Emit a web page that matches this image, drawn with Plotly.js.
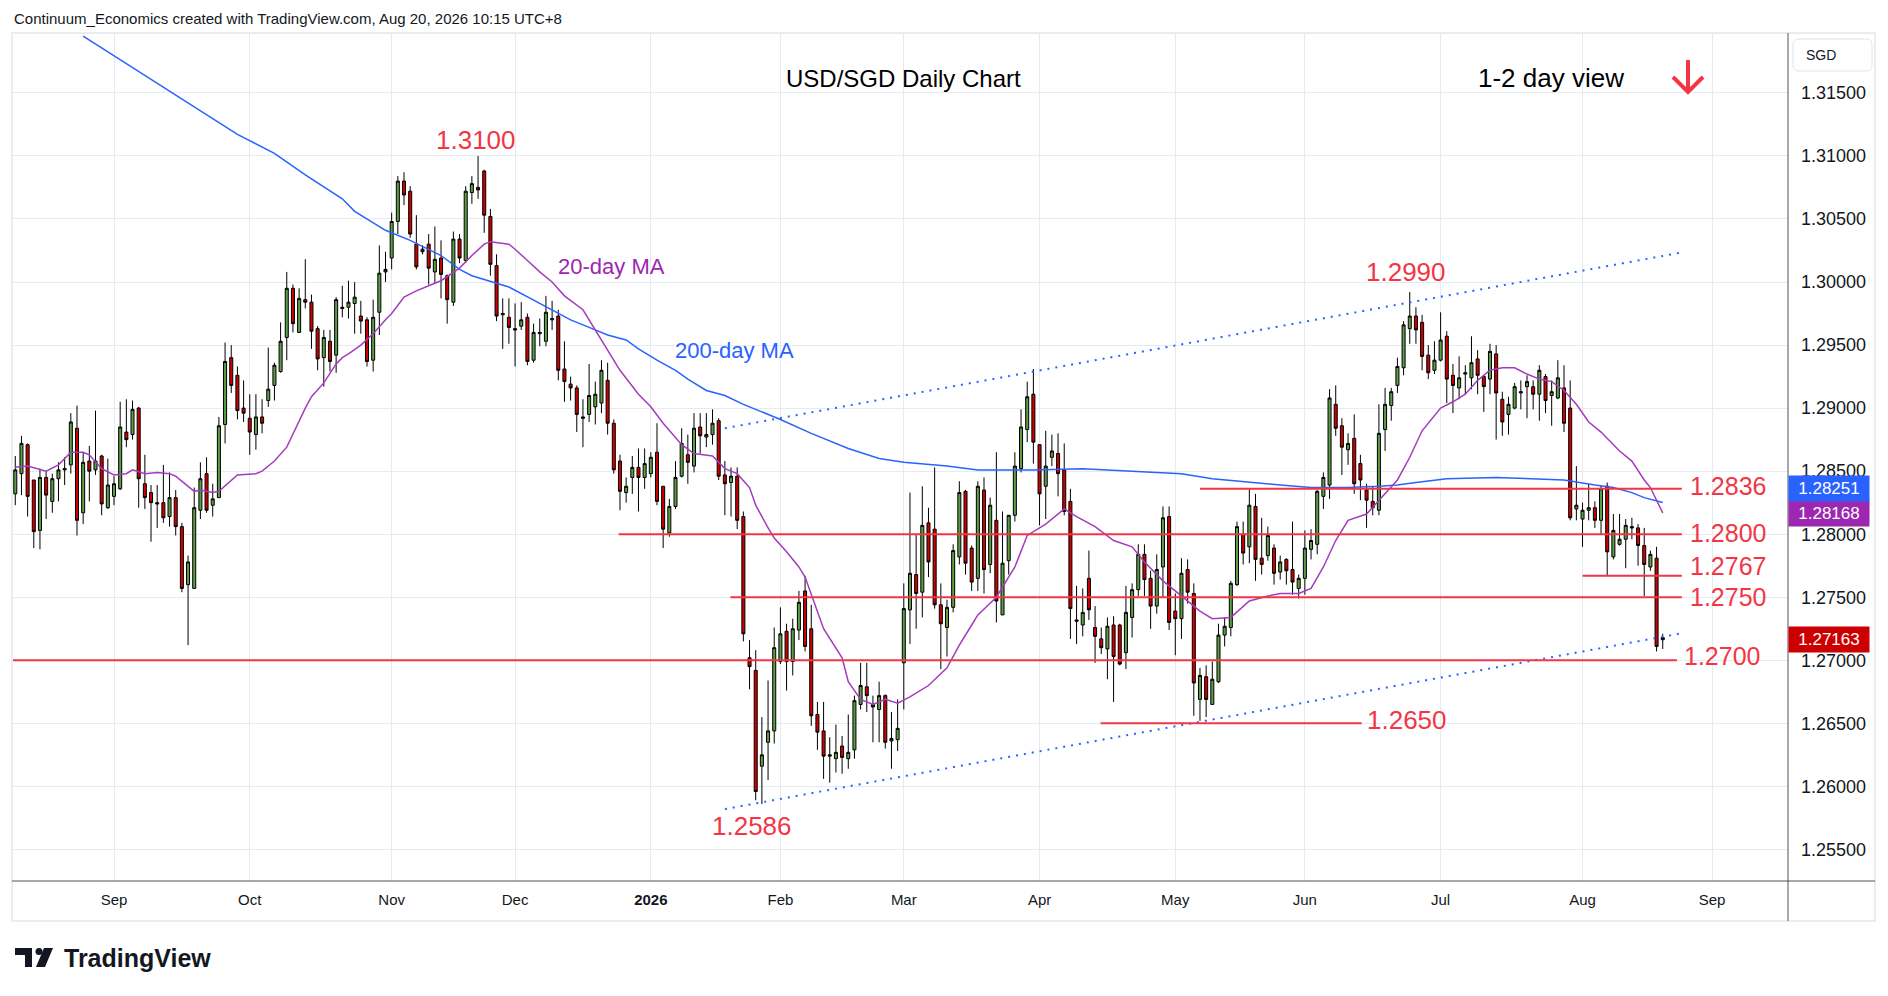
<!DOCTYPE html>
<html>
<head>
<meta charset="utf-8">
<script src="https://cdn.plot.ly/plotly-3.0.1.min.js"></script>
<style>
  html, body { margin: 0; padding: 0; background: #ffffff; }
  #usdsgd_plot { width: 1888px; height: 996px; }
</style>
</head>
<body>
<div id="usdsgd_plot"></div>
<script>
// daily bars, 8 Aug 2025 .. 20 Aug 2026
var openPx = [
  1.2832,1.2848,1.2871,1.2843,1.2803,1.2845,1.2826,1.2844,1.2851,1.2855,
  1.2884,1.2817,1.2858,1.2851,1.2862,1.2821,1.2830,1.2836,1.2881,1.2879,
  1.2900,1.2840,1.2833,1.2825,1.2825,1.2814,1.2829,1.2806,1.2760,1.2757,
  1.2819,1.2848,1.2823,1.2829,1.2887,1.2940,1.2926,1.2900,1.2892,1.2879,
  1.2893,1.2906,1.2918,1.2929,1.2956,1.2995,1.2960,1.2986,1.2984,1.2963,
  1.2940,1.2953,1.2942,1.2980,1.2980,1.2983,1.2973,1.2970,1.2938,1.2976,
  1.3008,1.3019,1.3048,1.3080,1.3072,1.3030,1.3024,1.3030,1.3008,1.3019,
  1.3005,1.2984,1.3034,1.3017,1.3071,1.3075,1.3088,1.3052,1.3013,1.2974,
  1.2972,1.2963,1.2965,1.2972,1.2938,1.2959,1.2953,1.2970,1.2973,1.2931,
  1.2919,1.2916,1.2893,1.2895,1.2901,1.2904,1.2922,1.2888,1.2858,1.2833,
  1.2845,1.2853,1.2845,1.2848,1.2865,1.2838,1.2801,1.2822,1.2846,1.2863,
  1.2854,1.2885,1.2877,1.2879,1.2890,1.2847,1.2841,1.2846,1.2814,1.2702,
  1.2692,1.2616,1.2635,1.2644,1.2699,1.2723,1.2699,1.2724,1.2755,1.2725,
  1.2657,1.2644,1.2624,1.2622,1.2632,1.2622,1.2629,1.2665,1.2679,1.2665,
  1.2661,1.2672,1.2636,1.2637,1.2698,1.2740,1.2768,1.2754,1.2809,1.2804,
  1.2744,1.2726,1.2742,1.2782,1.2834,1.2789,1.2765,1.2835,1.2776,1.2811,
  1.2736,1.2779,1.2815,1.2852,1.2883,1.2911,1.2871,1.2838,1.2861,1.2864,
  1.2851,1.2826,1.2732,1.2728,1.2765,1.2726,1.2717,1.2709,1.2728,1.2728,
  1.2706,1.2734,1.2756,1.2784,1.2765,1.2743,1.2774,1.2814,1.2739,1.2733,
  1.2772,1.2753,1.2669,1.2687,1.2665,1.2683,1.2720,1.2726,1.2760,1.2800,
  1.2790,1.2822,1.2781,1.2783,1.2789,1.2770,1.2780,1.2772,1.2757,1.2765,
  1.2788,1.2792,1.2830,1.2839,1.2903,1.2886,1.2867,1.2876,1.2856,1.2835,
  1.2826,1.2819,1.2883,1.2902,1.2918,1.2932,1.2963,1.2973,1.2968,1.2942,
  1.2930,1.2938,1.2957,1.2926,1.2916,1.2927,1.2924,1.2939,1.2925,1.2923,
  1.2943,1.2907,1.2895,1.2900,1.2912,1.2917,1.2917,1.2911,1.2925,1.2910,
  1.2908,1.2916,1.2900,1.2820,1.2812,1.2819,1.2821,1.2811,1.2838,1.2782,
  1.2792,1.2796,1.2806,1.2805,1.2791,1.2774,1.2781,1.2718
];
var highPx = [
  1.2862,1.2878,1.2872,1.2843,1.2852,1.2850,1.2848,1.2857,1.2861,1.2896,
  1.2902,1.2865,1.2870,1.2898,1.2863,1.2860,1.2846,1.2905,1.2907,1.2906,
  1.2901,1.2863,1.2839,1.2839,1.2855,1.2849,1.2835,1.2809,1.2783,1.2837,
  1.2857,1.2861,1.2840,1.2893,1.2952,1.2950,1.2933,1.2922,1.2911,1.2911,
  1.2907,1.2948,1.2936,1.2968,1.3008,1.2998,1.2995,1.3018,1.2990,1.2965,
  1.2962,1.2962,1.2988,1.2997,1.3001,1.3000,1.2985,1.2972,1.2986,1.3029,
  1.3024,1.3055,1.3084,1.3087,1.3076,1.3053,1.3029,1.3038,1.3044,1.3033,
  1.3006,1.3040,1.3038,1.3076,1.3084,1.3100,1.3089,1.3058,1.3022,1.2987,
  1.2987,1.2983,1.2984,1.2975,1.2967,1.2971,1.2989,1.2985,1.2978,1.2953,
  1.2925,1.2918,1.2907,1.2935,1.2921,1.2938,1.2936,1.2891,1.2863,1.2845,
  1.2862,1.2868,1.2868,1.2865,1.2888,1.2838,1.2828,1.2858,1.2884,1.2879,
  1.2896,1.2896,1.2896,1.2899,1.2892,1.2858,1.2853,1.2853,1.2818,1.2716,
  1.2708,1.2655,1.2684,1.2726,1.2742,1.2729,1.2733,1.2755,1.2767,1.2744,
  1.2667,1.2667,1.2639,1.2649,1.2640,1.2657,1.2672,1.2698,1.2698,1.2672,
  1.2683,1.2673,1.2659,1.2669,1.2761,1.2833,1.2800,1.2838,1.2821,1.2853,
  1.2761,1.2748,1.2792,1.2842,1.2835,1.2791,1.2842,1.2845,1.2829,1.2865,
  1.2818,1.2815,1.2865,1.2899,1.2921,1.2931,1.2871,1.2882,1.2879,1.2880,
  1.2872,1.2836,1.2759,1.2757,1.2787,1.2743,1.2726,1.2734,1.2735,1.2729,
  1.2759,1.2761,1.2792,1.2792,1.2771,1.2784,1.2822,1.2822,1.2753,1.2781,
  1.2780,1.2761,1.2694,1.2696,1.2699,1.2729,1.2734,1.2763,1.2810,1.2810,
  1.2836,1.2832,1.2813,1.2806,1.2792,1.2783,1.2781,1.2810,1.2768,1.2803,
  1.2804,1.2835,1.2849,1.2915,1.2918,1.2892,1.2880,1.2895,1.2863,1.2840,
  1.2838,1.2903,1.2916,1.2916,1.2940,1.2969,1.2992,1.2980,1.2974,1.2950,
  1.2953,1.2976,1.2961,1.2935,1.2941,1.2934,1.2957,1.2946,1.2926,1.2951,
  1.2950,1.2913,1.2909,1.2920,1.2922,1.2926,1.2922,1.2934,1.2927,1.2922,
  1.2938,1.2934,1.2922,1.2854,1.2825,1.2840,1.2826,1.2839,1.2841,1.2816,
  1.2816,1.2812,1.2813,1.2808,1.2805,1.2787,1.2790,1.2721
];
var lowPx = [
  1.2823,1.2831,1.2814,1.2789,1.2788,1.2812,1.2817,1.2826,1.2839,1.2848,
  1.2799,1.2808,1.2826,1.2847,1.2815,1.2820,1.2823,1.2835,1.2869,1.2875,
  1.2821,1.2820,1.2794,1.2805,1.2809,1.2806,1.2799,1.2754,1.2712,1.2757,
  1.2812,1.2817,1.2814,1.2829,1.2872,1.2912,1.2891,1.2889,1.2863,1.2867,
  1.2880,1.2901,1.2906,1.2928,1.2938,1.2960,1.2960,1.2979,1.2947,1.2930,
  1.2917,1.2929,1.2928,1.2972,1.2971,1.2959,1.2959,1.2933,1.2929,1.2958,
  1.3000,1.3010,1.3038,1.3061,1.3035,1.3010,1.3022,1.2998,1.2999,1.2987,
  1.2967,1.2981,1.3015,1.3015,1.3062,1.3066,1.3039,1.3005,1.2969,1.2947,
  1.2951,1.2933,1.2962,1.2934,1.2936,1.2949,1.2949,1.2962,1.2922,1.2905,
  1.2906,1.2881,1.2869,1.2889,1.2887,1.2896,1.2879,1.2848,1.2819,1.2825,
  1.2832,1.2818,1.2836,1.2845,1.2823,1.2789,1.2798,1.2820,1.2845,1.2840,
  1.2849,1.2864,1.2869,1.2871,1.2843,1.2815,1.2814,1.2804,1.2715,1.2677,
  1.2589,1.2586,1.2605,1.2634,1.2697,1.2676,1.2688,1.2716,1.2707,1.2648,
  1.2629,1.2606,1.2603,1.2611,1.2610,1.2614,1.2622,1.2661,1.2659,1.2635,
  1.2635,1.2630,1.2614,1.2628,1.2661,1.2713,1.2725,1.2734,1.2766,1.2741,
  1.2693,1.2703,1.2738,1.2776,1.2768,1.2755,1.2755,1.2753,1.2769,1.2730,
  1.2736,1.2768,1.2810,1.2849,1.2873,1.2856,1.2807,1.2812,1.2854,1.2830,
  1.2815,1.2717,1.2713,1.2719,1.2732,1.2698,1.2705,1.2685,1.2667,1.2696,
  1.2693,1.2718,1.2751,1.2751,1.2725,1.2737,1.2750,1.2724,1.2704,1.2717,
  1.2745,1.2656,1.2652,1.2655,1.2665,1.2682,1.2711,1.2719,1.2759,1.2776,
  1.2777,1.2763,1.2768,1.2779,1.2760,1.2764,1.2760,1.2752,1.2749,1.2752,
  1.2780,1.2784,1.2820,1.2828,1.2878,1.2847,1.2855,1.2832,1.2827,1.2805,
  1.2815,1.2815,1.2866,1.2890,1.2912,1.2926,1.2951,1.2951,1.2930,1.2923,
  1.2927,1.2937,1.2904,1.2896,1.2907,1.2911,1.2915,1.2911,1.2897,1.2911,
  1.2875,1.2878,1.2879,1.2899,1.2899,1.2892,1.2899,1.2890,1.2896,1.2886,
  1.2907,1.2881,1.2811,1.2811,1.2790,1.2811,1.2805,1.2800,1.2767,1.2780,
  1.2791,1.2773,1.2796,1.2775,1.2751,1.2771,1.2707,1.2709
];
var closePx = [
  1.2851,1.2872,1.2830,1.2802,1.2845,1.2831,1.2844,1.2851,1.2852,1.2889,
  1.2811,1.2857,1.2850,1.2858,1.2824,1.2839,1.2840,1.2885,1.2875,1.2899,
  1.2844,1.2829,1.2825,1.2824,1.2813,1.2829,1.2806,1.2757,1.2778,1.2821,
  1.2844,1.2819,1.2828,1.2886,1.2937,1.2918,1.2898,1.2896,1.2881,1.2893,
  1.2888,1.2915,1.2934,1.2953,1.2995,1.2967,1.2987,1.2984,1.2961,1.2939,
  1.2956,1.2937,1.2986,1.2979,1.2984,1.2988,1.2969,1.2937,1.2972,1.3007,
  1.3010,1.3048,1.3080,1.3069,1.3038,1.3012,1.3026,1.3011,1.3018,1.3006,
  1.2986,1.3034,1.3019,1.3072,1.3078,1.3073,1.3053,1.3014,1.2973,1.2975,
  1.2964,1.2962,1.2970,1.2937,1.2960,1.2960,1.2976,1.2971,1.2930,1.2921,
  1.2916,1.2895,1.2892,1.2910,1.2911,1.2930,1.2888,1.2851,1.2834,1.2838,
  1.2853,1.2845,1.2856,1.2861,1.2826,1.2804,1.2822,1.2845,1.2872,1.2857,
  1.2884,1.2878,1.2879,1.2888,1.2846,1.2840,1.2846,1.2811,1.2721,1.2695,
  1.2596,1.2625,1.2644,1.2710,1.2721,1.2699,1.2725,1.2746,1.2711,1.2656,
  1.2643,1.2624,1.2625,1.2627,1.2623,1.2627,1.2668,1.2680,1.2672,1.2663,
  1.2672,1.2635,1.2638,1.2646,1.2741,1.2769,1.2753,1.2807,1.2778,1.2744,
  1.2729,1.2742,1.2787,1.2833,1.2777,1.2762,1.2838,1.2772,1.2823,1.2747,
  1.2777,1.2815,1.2854,1.2885,1.2909,1.2873,1.2832,1.2854,1.2866,1.2848,
  1.2818,1.2741,1.2731,1.2738,1.2740,1.2719,1.2710,1.2727,1.2703,1.2697,
  1.2738,1.2756,1.2784,1.2764,1.2743,1.2772,1.2813,1.2730,1.2733,1.2769,
  1.2754,1.2682,1.2688,1.2669,1.2685,1.2720,1.2727,1.2761,1.2806,1.2785,
  1.2823,1.2780,1.2776,1.2799,1.2769,1.2778,1.2771,1.2762,1.2765,1.2789,
  1.2795,1.2834,1.2845,1.2908,1.2884,1.2869,1.2872,1.2840,1.2843,1.2827,
  1.2821,1.2880,1.2903,1.2913,1.2933,1.2966,1.2973,1.2962,1.2941,1.2928,
  1.2938,1.2954,1.2923,1.2918,1.2924,1.2928,1.2936,1.2926,1.2917,1.2945,
  1.2912,1.2889,1.2903,1.2917,1.2913,1.2921,1.2911,1.2930,1.2906,1.2913,
  1.2924,1.2888,1.2813,1.2823,1.2819,1.2821,1.2811,1.2836,1.2786,1.2803,
  1.2796,1.2807,1.2805,1.2791,1.2776,1.2784,1.2711,1.27163
];

// moving averages read at sample bars
var ma20At = [0,2,5,7,9,11,12,14,16,18,19,21,23,25,26,29,30,32,33,36,39,40,42,44,47,48,50,52,53,54,
  56,58,60,61,63,65,67,69,72,74,76,77,80,81,83,85,87,89,92,94,96,98,101,103,105,108,110,113,115,117,
  119,120,122,123,125,127,128,129,131,134,135,137,139,141,143,145,148,151,153,155,156,159,162,164,167,170,172,175,178,181,
  183,186,189,192,194,197,200,203,205,208,210,212,214,216,219,221,224,226,228,231,233,235,237,239,241,243,245,247,249,251,
  253,255,257,260,262,264,265,267];
var ma20Val = [1.2853,1.2854,1.2850,1.2855,1.2865,1.2865,1.2863,1.2852,1.2847,1.2848,1.2851,1.2848,1.2849,1.2848,1.2846,1.2834,1.2835,1.2833,1.2834,1.2847,1.2848,1.2850,1.2858,1.2869,1.2900,1.2909,1.2920,1.2935,1.2940,1.2943,
  1.2950,1.2959,1.2970,1.2975,1.2988,1.2993,1.2997,1.3001,1.3011,1.3021,1.3030,1.3032,1.3030,1.3026,1.3017,1.3008,1.3000,1.2989,1.2978,1.2962,1.2946,1.2930,1.2911,1.2901,1.2888,1.2871,1.2864,1.2862,1.2852,1.2848,
  1.2837,1.2823,1.2805,1.2797,1.2786,1.2774,1.2766,1.2752,1.2725,1.2702,1.2683,1.2669,1.2665,1.2669,1.2666,1.2671,1.2680,1.2694,1.2712,1.2728,1.2736,1.2750,1.2774,1.2799,1.2808,1.2820,1.2814,1.2806,1.2795,1.2790,
  1.2778,1.2763,1.2751,1.2739,1.2733,1.2734,1.2747,1.2751,1.2753,1.2753,1.2757,1.2774,1.2795,1.2811,1.2816,1.2827,1.2843,1.2861,1.2882,1.2900,1.2905,1.2911,1.2922,1.2930,1.2932,1.2932,1.2927,1.2923,1.2921,1.2914,
  1.2903,1.2889,1.2881,1.2866,1.2858,1.2843,1.2837,1.28168];
var ma200At = [11,36,42,47,53,55,60,64,69,72,74,80,85,90,93,96,99,101,104,107,109,112,115,118,124,129,135,140,144,151,
  156,165,173,181,189,194,200,205,210,216,221,224,227,232,240,245,251,256,259,262,264,267];
var ma200Val = [1.3195,1.3117,1.3102,1.3085,1.3066,1.3056,1.3041,1.3033,1.3021,1.3010,1.3005,1.2996,1.2983,1.2970,1.2964,1.2958,1.2954,1.2947,1.2938,1.2930,1.2923,1.2914,1.2910,1.2903,1.2891,1.2880,1.2868,1.2860,1.2857,1.2854,
  1.2851,1.2851,1.2852,1.2850,1.2848,1.2844,1.2841,1.2839,1.2837,1.2837,1.2838,1.2839,1.2841,1.2844,1.2845,1.2844,1.2843,1.2839,1.2837,1.2833,1.2829,1.28251];

var priceTicks = [1.255, 1.260, 1.265, 1.270, 1.275, 1.280, 1.285, 1.290, 1.295, 1.300, 1.305, 1.310, 1.315];
var monthNames = ['Jan','Feb','Mar','Apr','May','Jun','Jul','Aug','Sep','Oct','Nov','Dec'];

// horizontal levels: price, first bar, last bar
var levelPx = [1.2836, 1.2800, 1.2767, 1.2750, 1.2700, 1.2650];
var levelFrom = [192, 97.8, 254, 115.9, -2, 175.9];
var levelTo = [270.1, 270.1, 270.1, 270.1, 269.3, 218.2];

// channel lines (two points each)
var chanAt = [115, 269.6];
var chanTop = [1.2884, 1.3023];
var chanBot = [1.2582, 1.2721];

// price notes on the chart: text value, bar, price
var noteVal = ['1.3100', '1.2990', '1.2586', '1.2650'];
var noteAt = [74.7, 225.4, 119.4, 225.6];
var notePx = [1.31126, 1.30077, 1.25686, 1.26527];

// trading days (weekdays without the two holidays)
var holidays = ['2025-12-25', '2026-01-01'];
var days = [];
for (var t = Date.UTC(2025, 7, 8); t <= Date.UTC(2026, 8, 30); t += 86400000) {
  var d = new Date(t);
  var iso = d.toISOString().slice(0, 10);
  if (d.getUTCDay() === 0 || d.getUTCDay() === 6 || holidays.indexOf(iso) >= 0) continue;
  days.push(d);
}
var tickIdx = [], tickText = [];
for (var i = 1; i < days.length; i++) {
  var m = days[i].getUTCMonth();
  if (m !== days[i - 1].getUTCMonth()) {
    tickIdx.push(i);
    tickText.push(m === 0 ? '<b>' + days[i].getUTCFullYear() + '</b>' : monthNames[m]);
  }
}
var barIdx = openPx.map(function (v, k) { return k; });

// pixel -> paper helpers (plot box 13..1788 x 33..881)
var L = 13, R = 1788, T = 33, B = 881;
function px(X) { return (X - L) / (R - L); }
function py(Y) { return (B - Y) / (B - T); }

var RED = '#f23645';
var FONT = 'Liberation Sans, Arial, sans-serif';

var data = [];
data.push({
  type: 'candlestick', x: barIdx, open: openPx, high: highPx, low: lowPx, close: closePx,
  increasing: {fillcolor: '#5b9e45', line: {color: '#000000', width: 1}},
  decreasing: {fillcolor: '#cc0000', line: {color: '#000000', width: 1}},
  whiskerwidth: 0, hoverinfo: 'skip', showlegend: false
});
data.push({type: 'scatter', mode: 'lines', x: ma200At, y: ma200Val, line: {color: '#2962ff', width: 1.5}, hoverinfo: 'skip'});
data.push({type: 'scatter', mode: 'lines', x: ma20At, y: ma20Val, line: {color: '#a53bbd', width: 1.5}, hoverinfo: 'skip'});
data.push({type: 'scatter', mode: 'lines', x: chanAt, y: chanTop, line: {color: '#2962ff', width: 2, dash: '2px,6px'}, hoverinfo: 'skip'});
data.push({type: 'scatter', mode: 'lines', x: chanAt, y: chanBot, line: {color: '#2962ff', width: 2, dash: '2px,6px'}, hoverinfo: 'skip'});
for (var k = 0; k < levelPx.length; k++) {
  data.push({type: 'scatter', mode: 'lines', x: [levelFrom[k], levelTo[k]], y: [levelPx[k], levelPx[k]],
    line: {color: RED, width: 2}, hoverinfo: 'skip'});
}

var ann = [];
ann.push({xref: 'paper', yref: 'paper', x: px(12), y: py(19), xanchor: 'left', yanchor: 'middle', showarrow: false,
  text: 'Continuum_Economics created with TradingView.com, Aug 20, 2026 10:15 UTC+8', font: {size: 15, color: '#131722'}});
ann.push({xref: 'paper', yref: 'paper', x: px(903), y: py(79), xanchor: 'center', yanchor: 'middle', showarrow: false,
  text: 'USD/SGD Daily Chart', font: {size: 24, color: '#000000'}});
ann.push({xref: 'paper', yref: 'paper', x: px(1551), y: py(78), xanchor: 'center', yanchor: 'middle', showarrow: false,
  text: '1-2 day view', font: {size: 26, color: '#000000'}});
ann.push({xref: 'paper', yref: 'paper', x: px(1804), y: py(55), xanchor: 'left', yanchor: 'middle', showarrow: false,
  text: 'SGD', font: {size: 14, color: '#131722'}});
ann.push({xref: 'paper', yref: 'paper', x: px(62), y: py(958), xanchor: 'left', yanchor: 'middle', showarrow: false,
  text: '<b>TradingView</b>', font: {size: 25, color: '#131722'}});
ann.push({x: 96.7, y: 1.30121, xanchor: 'center', yanchor: 'middle', showarrow: false,
  text: '20-day MA', font: {size: 22, color: '#9c27b0'}});
ann.push({x: 116.6, y: 1.29453, xanchor: 'center', yanchor: 'middle', showarrow: false,
  text: '200-day MA', font: {size: 22, color: '#2962ff'}});
for (var k = 0; k < noteVal.length; k++) {
  ann.push({x: noteAt[k], y: notePx[k], xanchor: 'center', yanchor: 'middle', showarrow: false,
    text: noteVal[k], font: {size: 26, color: RED}});
}
// level labels right of the lines (1.2767 nudged up so it clears 1.2750)
var sideY = [1.28384, 1.28013, 1.27745, 1.27500, 1.27034];
var sideAt = [271.1, 271.1, 271.1, 271.1, 270.1];
for (var k = 0; k < 5; k++) {
  ann.push({x: sideAt[k], y: sideY[k], xanchor: 'left', yanchor: 'middle', showarrow: false,
    text: levelPx[k].toFixed(4), font: {size: 25, color: RED}});
}
// price tags on the axis
var lastMa20 = ma20Val[ma20Val.length - 1];
var lastMa200 = ma200Val[ma200Val.length - 1];
var lastClose = closePx[closePx.length - 1];
var tagH = 25 / 12610;
var tagList = [
  [lastMa20, lastMa20, '#9c27b0'],
  [lastMa200, Math.max(lastMa200, lastMa20 + tagH), '#2962ff'],
  [lastClose, lastClose, '#cc0000']
];
tagList.forEach(function (tg) {
  ann.push({xref: 'paper', x: 1, y: tg[1], xanchor: 'left', yanchor: 'middle', showarrow: false,
    text: tg[0].toFixed(5), font: {size: 17, color: '#ffffff'}, bgcolor: tg[2],
    width: 74, height: 19, borderpad: 3, align: 'center'});
});

// rounded box path in paper coords
function roundBox(x0, y0, x1, y1, r) {
  return 'M' + px(x0 + r) + ',' + py(y0) + ' L' + px(x1 - r) + ',' + py(y0) +
    ' Q' + px(x1) + ',' + py(y0) + ' ' + px(x1) + ',' + py(y0 + r) +
    ' L' + px(x1) + ',' + py(y1 - r) + ' Q' + px(x1) + ',' + py(y1) + ' ' + px(x1 - r) + ',' + py(y1) +
    ' L' + px(x0 + r) + ',' + py(y1) + ' Q' + px(x0) + ',' + py(y1) + ' ' + px(x0) + ',' + py(y1 - r) +
    ' L' + px(x0) + ',' + py(y0 + r) + ' Q' + px(x0) + ',' + py(y0) + ' ' + px(x0 + r) + ',' + py(y0) + ' Z';
}

var shapes = [];
shapes.push({type: 'rect', xref: 'paper', yref: 'paper', x0: px(12), x1: px(1875), y0: py(921), y1: py(33),
  line: {color: '#e9ecf0', width: 2}, layer: 'below'});
shapes.push({type: 'line', xref: 'paper', yref: 'paper', x0: px(1788), x1: px(1788), y0: py(921), y1: py(33),
  line: {color: '#50535e', width: 1}});
shapes.push({type: 'line', xref: 'paper', yref: 'paper', x0: px(12), x1: px(1875), y0: py(881), y1: py(881),
  line: {color: '#50535e', width: 1}});
shapes.push({type: 'path', xref: 'paper', yref: 'paper', path: roundBox(1793, 39, 1872, 71, 6),
  line: {color: '#e0e3eb', width: 1}});
// red down arrow
shapes.push({type: 'path', xref: 'paper', yref: 'paper',
  path: 'M' + px(1688) + ',' + py(60) + ' L' + px(1688) + ',' + py(91) +
        ' M' + px(1673) + ',' + py(77) + ' L' + px(1688) + ',' + py(92) + ' L' + px(1703) + ',' + py(77),
  line: {color: RED, width: 4}});
// TradingView mark
shapes.push({type: 'path', xref: 'paper', yref: 'paper',
  path: 'M' + px(15) + ',' + py(948) + ' L' + px(32) + ',' + py(948) + ' L' + px(32) + ',' + py(967) +
        ' L' + px(25) + ',' + py(967) + ' L' + px(25) + ',' + py(955) + ' L' + px(15) + ',' + py(955) + ' Z',
  fillcolor: '#131722', line: {width: 0}});
shapes.push({type: 'circle', xref: 'paper', yref: 'paper', x0: px(35.5), x1: px(42.5), y0: py(955), y1: py(948),
  fillcolor: '#131722', line: {width: 0}});
shapes.push({type: 'path', xref: 'paper', yref: 'paper',
  path: 'M' + px(44) + ',' + py(948) + ' L' + px(53) + ',' + py(948) + ' L' + px(45) + ',' + py(967) +
        ' L' + px(36) + ',' + py(967) + ' Z',
  fillcolor: '#131722', line: {width: 0}});

var layout = {
  width: 1888, height: 996,
  margin: {l: L, r: 1888 - R, t: T, b: 996 - B},
  paper_bgcolor: '#ffffff', plot_bgcolor: '#ffffff',
  font: {family: FONT, color: '#131722', size: 15},
  showlegend: false,
  xaxis: {
    range: [-0.37, 287.3], tickvals: tickIdx, ticktext: tickText,
    showgrid: true, gridcolor: '#e6ebf1', gridwidth: 1, zeroline: false, showline: false,
    ticks: '', tickfont: {size: 15, color: '#131722'}, ticklabelstandoff: 8,
    rangeslider: {visible: false}, fixedrange: true
  },
  yaxis: {
    side: 'right', range: [1.252498, 1.319746], tickvals: priceTicks, tickformat: '.5f',
    showgrid: true, gridcolor: '#e6ebf1', gridwidth: 1, zeroline: false, showline: false,
    ticks: '', tickfont: {size: 18, color: '#131722'}, ticklabelstandoff: 12, fixedrange: true
  },
  shapes: shapes,
  annotations: ann
};

Plotly.newPlot('usdsgd_plot', data, layout, {staticPlot: true, displayModeBar: false});
</script>
</body>
</html>
